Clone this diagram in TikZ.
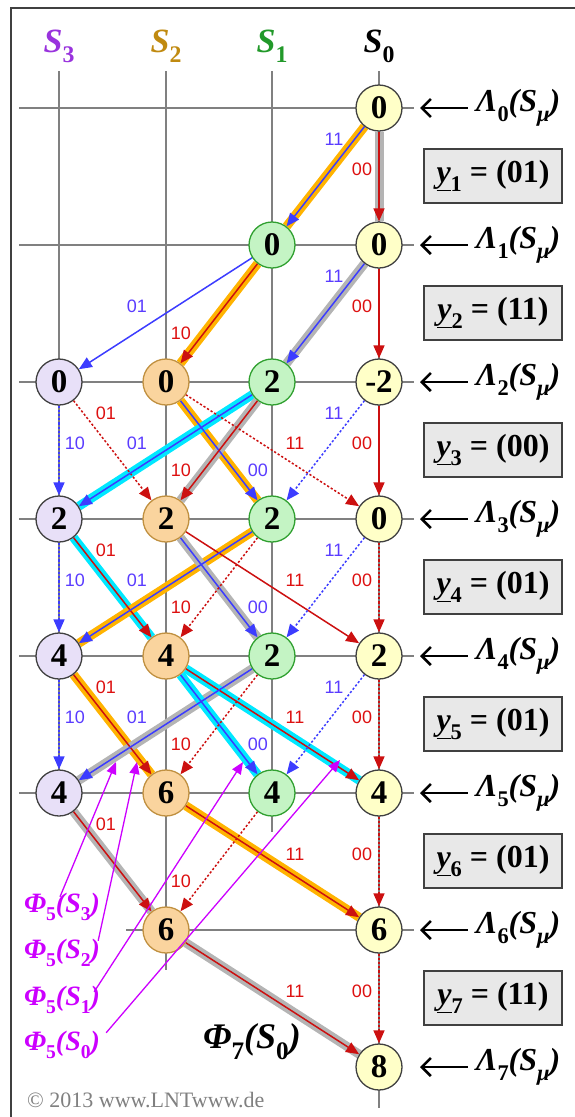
\documentclass[tikz,border=0pt]{standalone}
\usepackage{fontspec}
\setmainfont{Liberation Serif}
\setsansfont{Liberation Sans}
\usepackage{graphicx}
\usetikzlibrary{arrows.meta}
\pgfdeclarelayer{grid}\pgfdeclarelayer{hl}\pgfdeclarelayer{edg}
\pgfsetlayers{grid,hl,edg,main}
\definecolor{f3}{HTML}{E8E0F8}\definecolor{b3}{HTML}{404040}
\definecolor{f2}{HTML}{FAD49E}\definecolor{b2}{HTML}{C09040}
\definecolor{f1}{HTML}{C4F4C4}\definecolor{b1}{HTML}{30A030}
\definecolor{f0}{HTML}{FFFFC8}\definecolor{b0}{HTML}{404040}
\definecolor{eblue}{HTML}{3C3CFF}\definecolor{ered}{HTML}{CC1010}
\definecolor{lblue}{HTML}{5A3CFF}\definecolor{lred}{HTML}{DD1010}
\definecolor{hor}{HTML}{FFB300}\definecolor{hgr}{HTML}{B4B4B4}\definecolor{hcy}{HTML}{00E8FF}
\definecolor{mag}{HTML}{CC00FF}
\definecolor{h3}{HTML}{9933DD}\definecolor{h2}{HTML}{C08A10}\definecolor{h1}{HTML}{22992A}
\definecolor{gridc}{HTML}{808080}\definecolor{boxf}{HTML}{E8E8E8}
\newcommand\fsz[1]{\fontsize{#1}{#1}\selectfont}
\newcommand\lo[1]{\raisebox{-0.3em}{\scalebox{0.7}{#1}}}
\tikzset{
  st/.style={circle, minimum size=46pt, inner sep=0pt, line width=1.3pt, font=\bfseries\fsz{33}},
  s3/.style={st, fill=f3, draw=b3},
  s2/.style={st, fill=f2, draw=b2},
  s1/.style={st, fill=f1, draw=b1},
  s0/.style={st, fill=f0, draw=b0},
  tr/.style={line width=1.5pt, -{Triangle[length=13pt,width=11pt]}},
  bl/.style={tr, draw=eblue},
  rd/.style={tr, draw=ered},
  dt/.style={dash pattern=on 2.2pt off 2pt},
  hO/.style={line width=9pt, draw=hor},
  hG/.style={line width=9pt, draw=hgr},
  hC/.style={line width=9pt, draw=hcy},
  lb/.style={font=\sffamily\fsz{18}, inner sep=0pt},
  lB/.style={lb, text=lblue},
  lR/.style={lb, text=lred},
  gl/.style={draw=gridc, line width=1.1pt},
  hd/.style={font=\bfseries\itshape\fsz{34}},
  lam/.style={font=\bfseries\itshape\fsz{32}, anchor=west, inner sep=0pt},
  lamarr/.style={line width=2.6pt, {Straight Barb[length=9pt,width=18pt]}-},
  ybox/.style={draw=b0, fill=boxf, line width=1.3pt, minimum width=138pt, minimum height=54pt, font=\bfseries\fsz{32}},
  phi/.style={font=\bfseries\itshape\fsz{28}, text=mag, inner sep=0pt},
  mg/.style={draw=mag, line width=1.3pt, -{Triangle[length=12pt,width=10pt]}}
}
\begin{document}
\begin{tikzpicture}[x=1pt,y=-1pt]
\useasboundingbox (0,0) rectangle (575,1117);
\draw[line width=2pt, draw=b3] (11,8) rectangle (590,1130);
% headers
\node[hd, text=h3] (H3) at (59,46) {S\lo{\upshape 3}};
\node[hd, text=h2] (H2) at (166,46) {S\lo{\upshape 2}};
\node[hd, text=h1] (H1) at (272,46) {S\lo{\upshape 1}};
\node[hd, text=black] (H0) at (379,46) {S\lo{\upshape 0}};
% nodes
\node[s0] (a0) at (379,108) {0};
\node[s1] (b1) at (272,245) {0};
\node[s0] (b0) at (379,245) {0};
\node[s3] (c3) at (59,382) {0};
\node[s2] (c2) at (166,382) {0};
\node[s1] (c1) at (272,382) {2};
\node[s0] (c0) at (379,382) {-2};
\node[s3] (d3) at (59,519) {2};
\node[s2] (d2) at (166,519) {2};
\node[s1] (d1) at (272,519) {2};
\node[s0] (d0) at (379,519) {0};
\node[s3] (e3) at (59,656) {4};
\node[s2] (e2) at (166,656) {4};
\node[s1] (e1) at (272,656) {2};
\node[s0] (e0) at (379,656) {2};
\node[s3] (f3n) at (59,793) {4};
\node[s2] (f2n) at (166,793) {6};
\node[s1] (f1n) at (272,793) {4};
\node[s0] (f0n) at (379,793) {4};
\node[s2] (g2) at (166,930) {6};
\node[s0] (g0) at (379,930) {6};
\node[s0] (h0) at (379,1067) {8};
% grid
\begin{pgfonlayer}{grid}
\foreach \y in {108,245,382,519,656,793} \draw[gl] (19,\y) -- (414,\y);
\draw[gl] (126,930) -- (414,930);
\draw[gl] (59,71) -- (59,793);
\draw[gl] (166,71) -- (166,970);
\draw[gl] (272,71) -- (272,832);
\draw[gl] (379,71) -- (379,1108);
\end{pgfonlayer}
% highlights
\begin{pgfonlayer}{hl}
\draw[hO] (a0) -- (b1); \draw[hG] (a0) -- (b0);
\draw[hO] (b1) -- (c2); \draw[hG] (b0) -- (c1);
\draw[hO] (c2) -- (d1); \draw[hC] (c1) -- (d3); \draw[hG] (c1) -- (d2);
\draw[hC] (d3) -- (e2); \draw[hO] (d1) -- (e3); \draw[hG] (d2) -- (e1);
\draw[hO] (e3) -- (f2n); \draw[hG] (e1) -- (f3n); \draw[hC] (e2) -- (f1n); \draw[hC] (e2) -- (f0n);
\draw[hG] (f3n) -- (g2); \draw[hO] (f2n) -- (g0);
\draw[hG] (g2) -- (h0);
\end{pgfonlayer}
% edges
\begin{pgfonlayer}{edg}
% stage 0
\draw[bl] (a0) -- (b1); \draw[rd] (a0) -- (b0);
% stage 1
\draw[bl] (b1) -- (c3); \draw[rd] (b1) -- (c2);
\draw[bl] (b0) -- (c1); \draw[rd] (b0) -- (c0);
% stage 2
\draw[bl,dt] (c3) -- (d3); \draw[rd,dt] (c3) -- (d2);
\draw[bl] (c2) -- (d1); \draw[rd,dt] (c2) -- (d0);
\draw[bl] (c1) -- (d3); \draw[rd] (c1) -- (d2);
\draw[bl,dt] (c0) -- (d1); \draw[rd] (c0) -- (d0);
% stage 3
\draw[bl,dt] (d3) -- (e3); \draw[rd] (d3) -- (e2);
\draw[bl] (d2) -- (e1); \draw[rd] (d2) -- (e0);
\draw[bl] (d1) -- (e3); \draw[rd,dt] (d1) -- (e2);
\draw[bl,dt] (d0) -- (e1); \draw[rd,dt] (d0) -- (e0);
% stage 4
\draw[bl,dt] (e3) -- (f3n); \draw[rd] (e3) -- (f2n);
\draw[bl] (e2) -- (f1n); \draw[rd] (e2) -- (f0n);
\draw[bl] (e1) -- (f3n); \draw[rd,dt] (e1) -- (f2n);
\draw[bl,dt] (e0) -- (f1n); \draw[rd,dt] (e0) -- (f0n);
% stage 5
\draw[rd] (f3n) -- (g2); \draw[rd,dt] (f1n) -- (g2);
\draw[rd] (f2n) -- (g0); \draw[rd,dt] (f0n) -- (g0);
% stage 6
\draw[rd] (g2) -- (h0); \draw[rd,dt] (g0) -- (h0);
\end{pgfonlayer}
% edge labels
\node[lB] (l01) at (334,139) {11}; \node[lR] (l02) at (362,169) {00};
\node[lB] (l11) at (137,306) {01}; \node[lR] (l12) at (181,333) {10};
\node[lB] (l13) at (334,276) {11}; \node[lR] (l14) at (362,306) {00};
\foreach \Y/\k in {382/2,519/3,656/4}{
  \node[lR] (m\k a) at (106,\Y+31) {01};
  \node[lB] (m\k b) at (75,\Y+61) {10};
  \node[lB] (m\k c) at (137,\Y+61) {01};
  \node[lR] (m\k d) at (181,\Y+88) {10};
  \node[lB] (m\k e) at (258,\Y+88) {00};
  \node[lR] (m\k f) at (295,\Y+61) {11};
  \node[lB] (m\k g) at (334,\Y+31) {11};
  \node[lR] (m\k h) at (362,\Y+61) {00};
}
\node[lR] (l51) at (106,824) {01}; \node[lR] (l52) at (181,881) {10};
\node[lR] (l53) at (295,854) {11}; \node[lR] (l54) at (362,854) {00};
\node[lR] (l61) at (295,991) {11}; \node[lR] (l62) at (362,991) {00};
% Lambda labels
\foreach \Y/\k in {108/0,245/1,382/2,519/3,656/4,793/5,930/6,1067/7}{
  \node[lam] (L\k) at (476,\Y) {Λ\lo{\upshape\k}(S\lo{μ})};
  \coordinate (La\k) at (420,\Y);
  \coordinate (Lb\k) at (468,\Y);
  \draw[lamarr] (La\k) -- (Lb\k);
}
% y boxes
\foreach \Y/\k/\v in {176/1/01,313/2/11,450/3/00,587/4/01,724/5/01,861/6/01,998/7/11}{
  \node[ybox] (Y\k) at (493,\Y) {\underline{\itshape y}\lo{\k} = (\v)};
}
% Phi labels
\node[phi] (p3) at (62,907) {Φ\lo{\upshape 5}(S\lo{\upshape 3})};
\node[phi] (p2) at (62,953) {Φ\lo{\upshape 5}(S\lo{\upshape 2})};
\node[phi] (p1) at (62,1000) {Φ\lo{\upshape 5}(S\lo{\upshape 1})};
\node[phi] (p0) at (62,1045) {Φ\lo{\upshape 5}(S\lo{\upshape 0})};
\coordinate (t3) at (116,762);
\coordinate (t2) at (137,762);
\coordinate (t1) at (243,762);
\coordinate (t0) at (340,760);
\draw[mg] ([xshift=-2pt,yshift=-4pt]p3.north) -- (t3);
\draw[mg] ([shift={(-2,2)}]p2.north east) -- (t2);
\draw[mg] ([shift={(-6,6)}]p1.north east) -- (t1);
\draw[mg] ([shift={(6,2)}]p0.north east) -- (t0);
\node[font=\bfseries\itshape\fsz{36}] (P7) at (252,1042) {Φ\lo{\upshape 7}(S\lo{\upshape 0})};
\node[anchor=west, font=\fsz{22}, text=gridc, inner sep=0pt] (cp) at (27,1100) {© 2013 www.LNTwww.de};
\end{tikzpicture}
\end{document}
